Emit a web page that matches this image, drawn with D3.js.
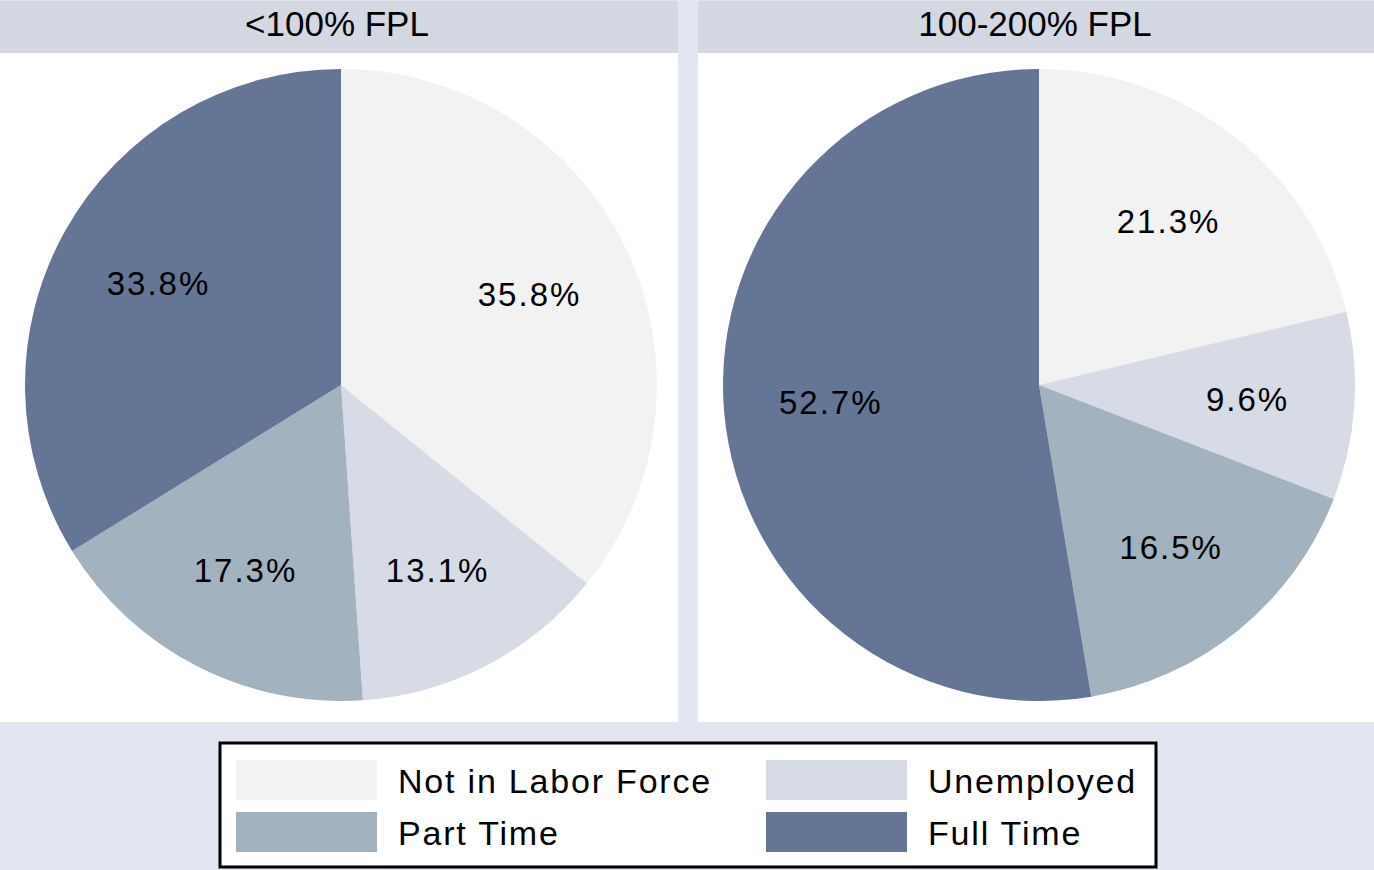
<!DOCTYPE html>
<html>
<head>
<meta charset="utf-8">
<script src="https://d3js.org/d3.v7.min.js"></script>
<style>
  body { margin: 0; background: #e1e5f0; }
  svg text { font-family: "Liberation Sans", Arial, sans-serif; fill: #000; }
</style>
</head>
<body>
<script>
// data
var categories = ["Not in Labor Force", "Unemployed", "Part Time", "Full Time"];
var panels = ["<100% FPL", "100-200% FPL"];
var below100 = [35.8, 13.1, 17.3, 33.8];
var from100to200 = [21.3, 9.6, 16.5, 52.7];
var colors = ["#f2f2f2", "#d7dbe6", "#a2b2bf", "#657596"];

var W = 1374, H = 870;
var svg = d3.select("body").append("svg")
  .attr("width", W).attr("height", H);

svg.append("rect").attr("width", W).attr("height", H).attr("fill", "#e1e5f0");

var color = d3.scaleOrdinal().domain(categories).range(colors);
var panelX = d3.scaleBand().domain(panels).range([0, 1376]).paddingInner(20 / 698);

var pie = d3.pie().sort(null).value(function(d) { return d.v; });
var radius = 316;
var arc = d3.arc().innerRadius(0).outerRadius(radius);
var labelArc = d3.arc().innerRadius(209).outerRadius(209);

[below100, from100to200].forEach(function(vals, i) {
  var x0 = panelX(panels[i]), w = panelX.bandwidth();
  var g = svg.append("g").attr("transform", "translate(" + x0 + ",0)");
  g.append("rect").attr("x", 0).attr("y", 1).attr("width", w).attr("height", 721).attr("fill", "#fff");
  g.append("rect").attr("x", 0).attr("y", 1).attr("width", w).attr("height", 52).attr("fill", "#d3d8e3");
  g.append("text").attr("x", w / 2 - 2).attr("y", 36)
    .attr("text-anchor", "middle").style("font-size", "35px")
    .text(panels[i]);

  var data = categories.map(function(c, j) { return { c: c, v: vals[j] }; });
  var pg = g.append("g").attr("transform", "translate(" + (w / 2 + 2) + ",385)");
  var arcs = pie(data);
  pg.selectAll("path").data(arcs).enter().append("path")
    .attr("d", arc).attr("fill", function(d) { return color(d.data.c); });
  pg.selectAll("text").data(arcs).enter().append("text")
    .attr("transform", function(d) { return "translate(" + labelArc.centroid(d) + ")"; })
    .attr("text-anchor", "middle").attr("dy", "0.35em")
    .style("font-size", "33px").style("letter-spacing", "2px")
    .text(function(d) { return d3.format(".1f")(d.data.v) + "%"; });
});

// legend
var lg = svg.append("g").attr("transform", "translate(220,743)");
lg.append("rect").attr("width", 936).attr("height", 124)
  .attr("fill", "#fff").attr("stroke", "#000").attr("stroke-width", 3);
var colX = d3.scaleOrdinal().domain([0, 1]).range([16, 546]);
var rowY = d3.scaleOrdinal().domain([0, 1]).range([17, 69]);
var items = lg.selectAll("g.item").data(categories).enter().append("g")
  .attr("class", "item")
  .attr("transform", function(d, i) { return "translate(" + colX(i % 2) + "," + rowY(Math.floor(i / 2)) + ")"; });
items.append("rect").attr("width", 141).attr("height", 40)
  .attr("fill", function(d) { return color(d); });
items.append("text").attr("x", 162).attr("y", 33)
  .style("font-size", "34px").style("letter-spacing", "1.8px")
  .text(function(d) { return d; });
</script>
</body>
</html>
